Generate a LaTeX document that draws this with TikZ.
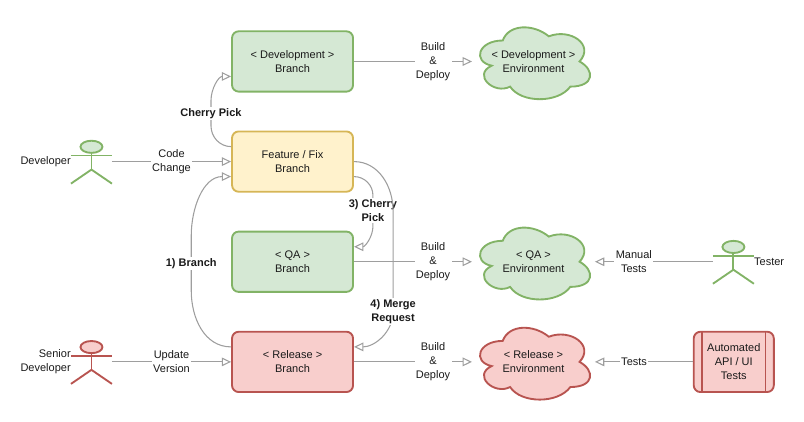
\documentclass[tikz,border=0pt]{standalone}
\usepackage{xcolor}
\usepackage{fontspec}
\setmainfont{Liberation Sans}
\usepackage{tikz}
\usetikzlibrary{arrows.meta, positioning}
\definecolor{mygreen}{HTML}{82B366}
\definecolor{myamber}{HTML}{D6B656}
\definecolor{myred}{HTML}{B85450}
\definecolor{hdrgreen}{HTML}{D5E8D4}
\definecolor{hdramber}{HTML}{FFF2CC}
\definecolor{hdrred}{HTML}{F8CECC}
\definecolor{mygray}{HTML}{9E9E9E}
\definecolor{mytext}{HTML}{1A1A1A}
\tikzset{
  greenblock/.style={rectangle, draw=mygreen, fill=hdrgreen,
    minimum width=3.19cm, minimum height=1.59cm, align=center,
    rounded corners=5pt, line width=1.4pt},
  amberblock/.style={greenblock, draw=myamber, fill=hdramber},
  redblock/.style={greenblock, draw=myred, fill=hdrred},
  envbox/.style={rectangle, minimum width=3.24cm, minimum height=2.21cm, inner sep=0pt, outer sep=0pt},
  greencloud/.style={draw=mygreen, fill=hdrgreen, line width=1.4pt},
  redcloud/.style={draw=myred, fill=hdrred, line width=1.4pt},
  envcloud/.pic={
    \path[pic actions, x=3.24cm, y=-2.21cm, shift={(-0.5,-0.5)}]
      (0.25,0.25) .. controls (0.05,0.25) and (0,0.5) .. (0.16,0.55)
      .. controls (0,0.66) and (0.18,0.9) .. (0.31,0.8)
      .. controls (0.4,1) and (0.7,1) .. (0.8,0.8)
      .. controls (1,0.8) and (1,0.6) .. (0.875,0.5)
      .. controls (1,0.3) and (0.8,0.1) .. (0.625,0.2)
      .. controls (0.5,0.05) and (0.3,0.05) .. cycle;
    \node[align=center] (-text) {\tikzpictext};
  },
  actorbox/.style={rectangle, minimum width=1.08cm, minimum height=1.16cm, inner sep=0pt, outer sep=0pt},
  actorlabel/.style={align=right, inner sep=0pt},
  arrow/.style={-{Triangle[open, length=7pt, width=6.5pt]}, line width=0.8pt, color=mygray, text=mytext},
  lbl/.style={fill=white, inner sep=1pt, align=center},
  boldlbl/.style={lbl, font=\fontsize{8.25}{10.5}\selectfont\bfseries},
  actor/.pic={
    \path[pic actions] (0,0.39) ellipse (0.29cm and 0.16cm);
    \path[pic actions, fill=none] (-0.54,0.16) -- (0.54,0.16);
    \path[pic actions, fill=none] (0,0.23) -- (0,-0.21);
    \path[pic actions, fill=none] (-0.54,-0.58) -- (0,-0.21) -- (0.54,-0.58);
  }
}
\begin{document}
\begin{tikzpicture}[text=mytext, font=\fontsize{8.25}{10.5}\selectfont]
  \useasboundingbox (0,0) rectangle (21.19,-11.12);
  % Branches
  \node[greenblock] (devbranch) at (7.71,-1.62) {< Development >\\Branch};
  \node[amberblock, below=1.0cm of devbranch] (feature) {Feature / Fix\\Branch};
  \node[greenblock, below=1.0cm of feature] (qabranch) {< QA >\\Branch};
  \node[redblock, below=1.0cm of qabranch] (release) {< Release >\\Branch};
  % Environments
  \node[envbox, right=3.11cm of devbranch] (devenv) {};
  \pic[greencloud, pic text={< Development >\\Environment}] at (devenv) {envcloud};
  \node[envbox, right=3.11cm of qabranch] (qaenv) {};
  \pic[greencloud, pic text={< QA >\\Environment}] at (qaenv) {envcloud};
  \node[envbox, right=3.11cm of release] (relenv) {};
  \pic[redcloud, pic text={< Release >\\Environment}] at (relenv) {envcloud};
  % Actors
  \node[actorbox, left=3.14cm of feature] (developer) {};
  \pic[draw=mygreen, fill=hdrgreen, line width=1.4pt] at (developer) {actor};
  \node[actorlabel, left=0pt of developer] (devname) {Developer};
  \node[actorbox, left=3.14cm of release] (senior) {};
  \pic[draw=myred, fill=hdrred, line width=1.4pt] at (senior) {actor};
  \node[actorlabel, left=0pt of senior] (seniorname) {Senior\\Developer};
  \node[actorbox, right=3.11cm of qaenv] (tester) {};
  \pic[draw=mygreen, fill=hdrgreen, line width=1.4pt] at (tester) {actor};
  \node[actorlabel, right=0pt of tester] (testername) {Tester};
  % Automated tests
  \node[redblock, minimum width=2.11cm, right=2.58cm of relenv] (autotests) {Automated\\API / UI\\Tests};
  \draw[myred, line width=1pt] ([xshift=0.24cm]autotests.north west) -- ([xshift=0.24cm]autotests.south west);
  \draw[myred, line width=1pt] ([xshift=-0.24cm]autotests.north east) -- ([xshift=-0.24cm]autotests.south east);

  % Arrows
  \draw[arrow] (developer) -- node[lbl] {Code\\Change} (feature);
  \draw[arrow] (senior) -- node[lbl] {Update\\Version} (release);
  \draw[arrow] (devbranch) -- node[lbl, pos=0.67] {Build\\\&\\Deploy} (devenv);
  \draw[arrow] (qabranch) -- node[lbl, pos=0.67] {Build\\\&\\Deploy} (qaenv);
  \draw[arrow] (release) -- node[lbl, pos=0.67] {Build\\\&\\Deploy} (relenv);
  \draw[arrow] (tester) -- node[lbl, pos=0.67] {Manual\\Tests} (qaenv);
  \draw[arrow] (autotests) -- node[lbl, pos=0.6] {Tests} (relenv);
  \draw[arrow] ([yshift=0.395cm]feature.west) to[out=180, in=-90] ++(-0.53,0.55) -- node[boldlbl] {Cherry Pick} ++(0,0.66) to[out=90, in=180] ([yshift=-0.395cm]devbranch.west);
  \draw[arrow] ([yshift=0.395cm]release.west) to[out=180, in=-90] ++(-1.05,1.48) -- node[boldlbl, pos=0.5] {1) Branch} ++(0,1.45) to[out=90, in=180] ([yshift=-0.395cm]feature.west);
  \draw[arrow] ([yshift=-0.395cm]feature.east) to[out=0, in=90] ++(0.5,-0.5) -- node[boldlbl] {3) Cherry\\Pick} ++(0,-0.8) to[out=-90, in=0] ([yshift=0.395cm]qabranch.east);
  \draw[arrow] (feature.east) to[out=0, in=90] ++(1.03,-1.3) -- ++(0,-2.65) node[boldlbl, pos=1] (merge) {4) Merge\\Request} to[out=-90, in=0] ([yshift=0.395cm]release.east);
\end{tikzpicture}
\end{document}
